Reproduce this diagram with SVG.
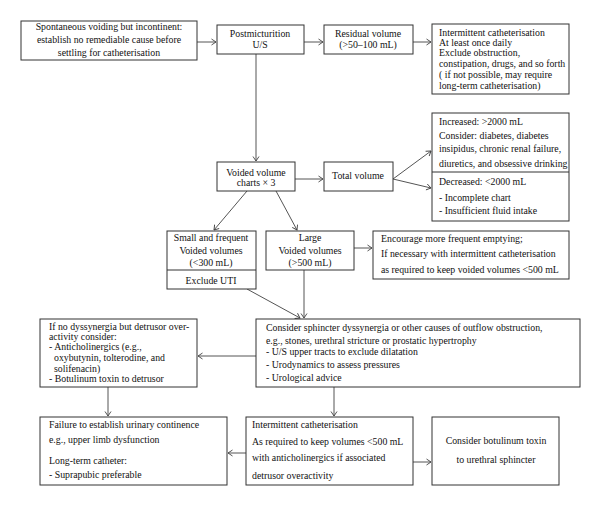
<svg xmlns="http://www.w3.org/2000/svg" width="600" height="506" viewBox="0 0 600 506">
<style>
.b{fill:#fff;stroke:#333;stroke-width:1}
.t{font-family:"Liberation Serif",serif;font-size:9.8px;fill:#111}
.c{text-anchor:middle}
.l{fill:none;stroke:#555;stroke-width:1}
</style>
<defs>
<marker id="a" markerWidth="6" markerHeight="8" refX="5" refY="4" orient="auto" markerUnits="userSpaceOnUse">
<path d="M0.5,1 L5,4 L0.5,7" fill="none" stroke="#444" stroke-width="0.9"/>
</marker>
</defs>
<rect width="600" height="506" fill="#fff"/>
<g id="connectors" class="l" marker-end="url(#a)">
<line x1="197" y1="42" x2="216" y2="42"/>
<line x1="304" y1="42" x2="323" y2="42"/>
<line x1="413" y1="42" x2="431" y2="42"/>
<line x1="256" y1="54" x2="256" y2="161"/>
<line x1="295" y1="179" x2="323" y2="179"/>
<line x1="393" y1="179" x2="431" y2="151"/>
<line x1="393" y1="179" x2="431" y2="188"/>
<line x1="247" y1="191" x2="214" y2="230"/>
<line x1="276" y1="191" x2="297" y2="230"/>
<line x1="354" y1="248" x2="372" y2="248"/>
<line x1="304" y1="270" x2="304" y2="318"/>
<line x1="247" y1="289" x2="300" y2="318"/>
<line x1="256" y1="356" x2="198" y2="356"/>
<line x1="108" y1="387" x2="108" y2="416"/>
<line x1="334" y1="387" x2="334" y2="416"/>
<line x1="246" y1="453" x2="228" y2="453"/>
<line x1="413" y1="462" x2="431" y2="462"/>
</g>
<g id="n1"><rect class="b" x="21" y="21" width="176" height="39" stroke-width="1.3"/>
<text class="t c" x="109" y="30">Spontaneous voiding but incontinent:</text>
<text class="t c" x="109" y="43">establish no remediable cause before</text>
<text class="t c" x="109" y="56">settling for catheterisation</text></g>
<g id="n2"><rect class="b" x="217" y="25" width="87" height="29"/>
<text class="t c" x="260" y="37">Postmicturition</text>
<text class="t c" x="260" y="48">U/S</text></g>
<g id="n3"><rect class="b" x="324" y="25" width="89" height="29"/>
<text class="t c" x="368" y="37">Residual volume</text>
<text class="t c" x="368" y="48">(&gt;50–100 mL)</text></g>
<g id="n4"><rect class="b" x="432" y="24" width="137" height="70"/>
<text class="t" x="439" y="36">Intermittent catheterisation</text>
<text class="t" x="439" y="46">At least once daily</text>
<text class="t" x="439" y="56">Exclude obstruction,</text>
<text class="t" x="439" y="67">constipation, drugs, and so forth</text>
<text class="t" x="439" y="78">( if not possible, may require</text>
<text class="t" x="439" y="89">long-term catheterisation)</text></g>
<g id="n5"><rect class="b" x="432" y="113" width="137" height="108"/>
<line x1="432" y1="172" x2="569" y2="172" stroke="#333"/>
<text class="t" x="439" y="125">Increased: &gt;2000 mL</text>
<text class="t" x="439" y="139">Consider: diabetes, diabetes</text>
<text class="t" x="439" y="152">insipidus, chronic renal failure,</text>
<text class="t" x="439" y="167">diuretics, and obsessive drinking</text>
<text class="t" x="439" y="185">Decreased: &lt;2000 mL</text>
<text class="t" x="439" y="201">- Incomplete chart</text>
<text class="t" x="439" y="214">- Insufficient fluid intake</text></g>
<g id="n6"><rect class="b" x="217" y="162" width="78" height="29"/>
<text class="t c" x="256" y="176">Voided volume</text>
<text class="t c" x="256" y="186">charts × 3</text></g>
<g id="n7"><rect class="b" x="324" y="162" width="69" height="29"/>
<text class="t c" x="358" y="179">Total volume</text></g>
<g id="n8"><rect class="b" x="167" y="231" width="89" height="58"/>
<line x1="167" y1="270" x2="256" y2="270" stroke="#333"/>
<text class="t c" x="211" y="241">Small and frequent</text>
<text class="t c" x="211" y="254">Voided volumes</text>
<text class="t c" x="211" y="266">(&lt;300 mL)</text>
<text class="t c" x="211" y="284">Exclude UTI</text></g>
<g id="n9"><rect class="b" x="266" y="231" width="88" height="39"/>
<text class="t c" x="310" y="241">Large</text>
<text class="t c" x="310" y="254">Voided volumes</text>
<text class="t c" x="310" y="266">(&gt;500 mL)</text></g>
<g id="n10"><rect class="b" x="373" y="231" width="196" height="48"/>
<text class="t" x="381" y="242">Encourage more frequent emptying;</text>
<text class="t" x="381" y="257">If necessary with intermittent catheterisation</text>
<text class="t" x="381" y="273">as required to keep voided volumes &lt;500 mL</text></g>
<g id="n11"><rect class="b" x="256" y="319" width="324" height="68"/>
<text class="t" x="266" y="331">Consider sphincter dyssynergia or other causes of outflow obstruction,</text>
<text class="t" x="266" y="344">e.g., stones, urethral stricture or prostatic hypertrophy</text>
<text class="t" x="266" y="355">- U/S upper tracts to exclude dilatation</text>
<text class="t" x="266" y="368">- Urodynamics to assess pressures</text>
<text class="t" x="266" y="381">- Urological advice</text></g>
<g id="n12"><rect class="b" x="40" y="319" width="157" height="68"/>
<text class="t" x="49" y="330">If no dyssynergia but detrusor over-</text>
<text class="t" x="49" y="340">activity consider:</text>
<text class="t" x="49" y="350">- Anticholinergics (e.g.,</text>
<text class="t" x="54" y="361">oxybutynin, tolterodine, and</text>
<text class="t" x="54" y="372">solifenacin)</text>
<text class="t" x="49" y="382">- Botulinum toxin to detrusor</text></g>
<g id="n13"><rect class="b" x="40" y="417" width="187" height="68"/>
<text class="t" x="49" y="428">Failure to establish urinary continence</text>
<text class="t" x="49" y="443">e.g., upper limb dysfunction</text>
<text class="t" x="49" y="464">Long-term catheter:</text>
<text class="t" x="49" y="478">- Suprapubic preferable</text></g>
<g id="n14"><rect class="b" x="246" y="417" width="167" height="68"/>
<text class="t" x="252" y="428">Intermittent catheterisation</text>
<text class="t" x="252" y="445">As required to keep volumes &lt;500 mL</text>
<text class="t" x="252" y="461">with anticholinergics if associated</text>
<text class="t" x="252" y="479">detrusor overactivity</text></g>
<g id="n15"><rect class="b" x="432" y="417" width="127" height="68"/>
<text class="t c" x="496" y="444">Consider botulinum toxin</text>
<text class="t c" x="496" y="463">to urethral sphincter</text></g>
</svg>
